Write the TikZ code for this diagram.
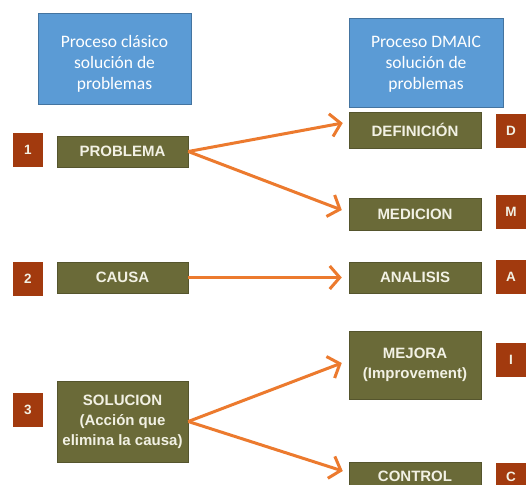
\documentclass[tikz,border=0pt]{standalone}
\usepackage{fontspec}
\setmainfont{Liberation Sans}
\newfontfamily\headfont{Carlito}
\usetikzlibrary{arrows.meta}
\definecolor{hdrblue}{HTML}{5B9BD5}
\definecolor{stageolive}{HTML}{6A6A38}
\definecolor{tagred}{HTML}{A23A0E}
\definecolor{linkorange}{HTML}{EC7A2E}
\definecolor{cream}{HTML}{F2F1E4}
\begin{document}
\begin{tikzpicture}[x=1pt,y=-1pt,
  header/.style={fill=hdrblue, draw=hdrblue!75!black, line width=0.6pt,
    inner sep=0pt},
  headertext/.style={text=white, font=\headfont\fontsize{17.5}{21}\selectfont,
    align=center, inner sep=0pt},
  stage/.style={fill=stageolive, draw=stageolive!80!black, line width=0.5pt,
    text=cream, font=\bfseries\fontsize{15}{20}\selectfont,
    align=center, inner sep=0pt, minimum height=31pt},
  tag/.style={fill=tagred, text=cream, font=\bfseries\fontsize{13.5}{15}\selectfont,
    minimum width=30pt, minimum height=34pt, inner sep=0pt},
  link/.style={draw=linkorange, line width=3pt,
    -{Straight Barb[length=10pt,width=23pt]}}]
\path[use as bounding box, clip] (0,0) rectangle (528,485);
\fill[white] (0,0) rectangle (528,485);

% column headers
\node[header, minimum width=153pt, minimum height=91pt] (hleft) at (114.5,58.5) {};
\node[headertext] (hlefttext) at ([yshift=-5pt]hleft.center)
  {Proceso clásico\\solución de\\problemas};
\node[header, minimum width=154pt, minimum height=89pt] (hright) at (426,62.5) {};
\node[headertext] (hrighttext) at ([yshift=-2pt]hright.center)
  {Proceso DMAIC\\solución de\\problemas};

% classic process
\node[stage, minimum width=131pt] (prob) at (122.5,151.5) {PROBLEMA};
\node[stage, minimum width=131pt] (cau) at (122.5,277.5) {CAUSA};
\node[stage, minimum width=131pt, minimum height=81pt] (sol) at (122.5,421.5)
  {SOLUCION\\(Acción que\\elimina la causa)};
\node[tag] (t1) at (28,150) {1};
\node[tag] (t2) at (28,279) {2};
\node[tag] (t3) at (28,410) {3};

% DMAIC process
\node[stage, minimum width=132pt, minimum height=36pt] (def) at (415,130) {DEFINICIÓN};
\node[stage, minimum width=132pt, minimum height=32pt] (med) at (415,214) {MEDICION};
\node[stage, minimum width=132pt] (ana) at (415,277.5) {ANALISIS};
\node[stage, minimum width=132pt, minimum height=68pt] (mej) at (415,365)
  {MEJORA\\(Improvement)};
\node[stage, minimum width=132pt, minimum height=28pt] (con) at (415,476) {CONTROL};
\node[tag] (td) at (511,130.5) {D};
\node[tag] (tm) at (511,212) {M};
\node[tag] (ta) at (511,277) {A};
\node[tag] (ti) at (511,360) {I};
\node[tag, minimum height=28pt] (tc) at (511,477) {C};

% correspondences
\draw[link] (prob.east) -- ([xshift=-6pt,yshift=7pt]def.west);
\draw[link] (prob.east) -- ([xshift=-7pt,yshift=4pt]med.west);
\draw[link] (cau.east) -- ([xshift=-7pt]ana.west);
\draw[link] (sol.east) -- ([xshift=-7pt,yshift=2pt]mej.west);
\draw[link] (sol.east) -- ([xshift=-6pt,yshift=5pt]con.west);
\end{tikzpicture}
\end{document}
